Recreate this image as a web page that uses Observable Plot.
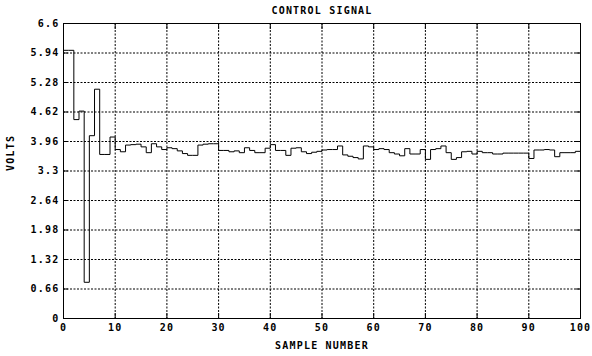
<!DOCTYPE html>
<html>
<head>
<meta charset="utf-8">
<script src="https://cdn.jsdelivr.net/npm/d3@7"></script>
<script src="https://cdn.jsdelivr.net/npm/@observablehq/plot@0.6"></script>
<style>
  html, body { margin: 0; padding: 0; background: white; }
</style>
</head>
<body>
<div id="chart"></div>
<script>
const titleText = "CONTROL SIGNAL";
const xLabelText = "SAMPLE NUMBER";
const yLabelText = "VOLTS";

const xTicks = [0, 10, 20, 30, 40, 50, 60, 70, 80, 90, 100];
const yTicks = [0, 0.66, 1.32, 1.98, 2.64, 3.3, 3.96, 4.62, 5.28, 5.94, 6.6];
const yTickLabels = ["0", "0.66", "1.32", "1.98", "2.64", "3.3", "3.96", "4.62", "5.28", "5.94", "6.6"];

// control signal value per sample number 0..100
const volts = [
  6.00, 6.00, 4.45, 4.64, 0.81, 4.09, 5.13, 3.67, 3.67, 4.06,
  3.78, 3.73, 3.88, 3.89, 3.90, 3.84, 3.71, 3.91, 3.84, 3.78,
  3.82, 3.80, 3.75, 3.69, 3.65, 3.65, 3.88, 3.90, 3.91, 3.91,
  3.76, 3.76, 3.73, 3.75, 3.71, 3.82, 3.76, 3.71, 3.71, 3.81,
  3.89, 3.76, 3.76, 3.65, 3.81, 3.82, 3.73, 3.69, 3.72, 3.74,
  3.77, 3.78, 3.78, 3.86, 3.66, 3.63, 3.60, 3.57, 3.86, 3.84,
  3.78, 3.80, 3.78, 3.71, 3.68, 3.64, 3.80, 3.68, 3.68, 3.78,
  3.56, 3.78, 3.80, 3.86, 3.71, 3.56, 3.60, 3.73, 3.74, 3.68,
  3.74, 3.71, 3.71, 3.68, 3.68, 3.70, 3.70, 3.70, 3.70, 3.70,
  3.58, 3.77, 3.77, 3.78, 3.77, 3.62, 3.71, 3.71, 3.71, 3.74,
  3.74
];
const samples = volts.map((v, i) => ({sample: i, volts: v}));

const chart = Plot.plot({
  width: 592,
  height: 356,
  marginTop: 23,
  marginBottom: 38,
  marginLeft: 63,
  marginRight: 12,
  style: {
    fontFamily: "'DejaVu Sans Mono', monospace",
    fontSize: "10px",
    fontWeight: "bold",
    letterSpacing: "1.2px",
    color: "black",
    background: "white"
  },
  x: {domain: [0, 100]},
  y: {domain: [0, 6.6]},
  marks: [
    Plot.gridX(xTicks, {stroke: "black", strokeOpacity: 1, strokeDasharray: "2,1.5"}),
    Plot.gridY(yTicks, {stroke: "black", strokeOpacity: 1, strokeDasharray: "2,1.5"}),
    Plot.axisX({anchor: "bottom", ticks: xTicks, tickSize: -5, tickPadding: 10, tickFormat: d => String(d), label: null}),
    Plot.axisX({anchor: "top", ticks: xTicks, tickSize: -5, tickFormat: () => "", label: null}),
    Plot.axisY({anchor: "left", ticks: yTicks, tickSize: -5, tickPadding: 9, tickFormat: d => yTickLabels[yTicks.indexOf(d)], label: null}),
    Plot.axisY({anchor: "right", ticks: yTicks, tickSize: -5, tickFormat: () => "", label: null}),
    Plot.frame({stroke: "black", strokeWidth: 1}),
    Plot.line(samples, {x: "sample", y: "volts", curve: "step-after", stroke: "black", strokeWidth: 1}),
    Plot.text([titleText], {frameAnchor: "top", lineAnchor: "middle", dy: -13, fill: "black"}),
    Plot.text([xLabelText], {frameAnchor: "bottom", lineAnchor: "middle", dy: 27, fill: "black"}),
    Plot.text([yLabelText], {frameAnchor: "left", lineAnchor: "middle", rotate: -90, dx: -53, fill: "black"})
  ]
});
document.getElementById("chart").appendChild(chart);
</script>
</body>
</html>
